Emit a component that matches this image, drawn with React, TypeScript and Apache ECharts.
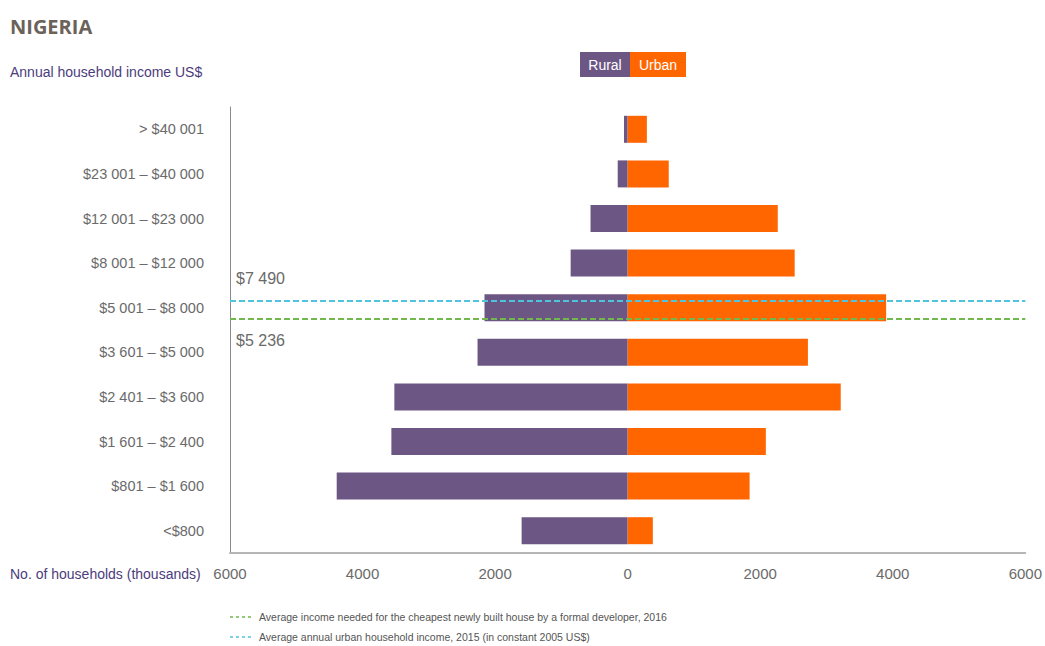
import React, { useEffect, useRef } from "react";
import * as echarts from "echarts";

const categories = [
  "<$800",
  "$801 – $1 600",
  "$1 601 – $2 400",
  "$2 401 – $3 600",
  "$3 601 – $5 000",
  "$5 001 – $8 000",
  "$8 001 – $12 000",
  "$12 001 – $23 000",
  "$23 001 – $40 000",
  "> $40 001",
];
const ruralValues = [1600, 4390, 3565, 3520, 2265, 2160, 860, 560, 150, 55];
const urbanValues = [380, 1840, 2085, 3215, 2720, 3900, 2520, 2265, 620, 290];
const xTicks = [-6000, -4000, -2000, 0, 2000, 4000, 6000];
// income reference lines, positioned on the category band scale (0 = bottom of "<$800")
const urbanIncomeLine = { label: "$7 490", level: 5.66 };
const houseIncomeLine = { label: "$5 236", level: 5.26 };
const footnotes = [
  "Average income needed for the cheapest newly built house by a formal developer, 2016",
  "Average annual urban household income, 2015 (in constant 2005 US$)",
];

const FONT = "'Liberation Sans', Arial, sans-serif";
const PURPLE = "#6c5683";
const ORANGE = "#ff6600";
const CYAN = "#4fc4dc";
const GREEN = "#72b84e";
const TEXT_PURPLE = "#4b3c7c";
const GREY = "#6a6a6a";

export default function App() {
  const ref = useRef<HTMLDivElement>(null);
  useEffect(() => {
    if (!ref.current) return;
    const chart = echarts.init(ref.current, null, { renderer: "svg" });
    chart.setOption({
      animation: false,
      backgroundColor: "#ffffff",
      grid: { left: 230, right: 16, top: 107, bottom: 93, containLabel: false },
      xAxis: {
        type: "value",
        min: xTicks[0],
        max: xTicks[xTicks.length - 1],
        interval: 2000,
        axisLine: { show: true, lineStyle: { color: "#b5b5b5", width: 2 } },
        axisTick: { show: false },
        splitLine: { show: false },
        axisLabel: {
          formatter: (v: number) => String(Math.abs(v)),
          color: GREY,
          fontFamily: FONT,
          fontSize: 15,
          margin: 13,
        },
      },
      yAxis: [
        {
          type: "category",
          data: categories,
          axisLine: { show: true, onZero: false, lineStyle: { color: "#8a8a8a", width: 1 } },
          axisTick: { show: false },
          splitLine: { show: false },
          axisLabel: { color: GREY, fontFamily: FONT, fontSize: 14.5, margin: 26 },
        },
        {
          type: "value",
          min: 0,
          max: categories.length,
          show: false,
        },
      ],
      series: [
        {
          name: "Rural",
          type: "bar",
          stack: "total",
          data: ruralValues.map((v) => -v),
          itemStyle: { color: PURPLE },
          barWidth: 27,
        },
        {
          name: "Urban",
          type: "bar",
          stack: "total",
          data: urbanValues,
          itemStyle: { color: ORANGE },
          barWidth: 27,
        },
        {
          name: "lines",
          type: "line",
          yAxisIndex: 1,
          data: [],
          z: 10,
          markLine: {
            silent: true,
            symbol: "none",
            data: [
              {
                yAxis: urbanIncomeLine.level,
                lineStyle: { color: CYAN, type: [6, 3], width: 2 },
                label: {
                  show: true,
                  formatter: urbanIncomeLine.label,
                  position: "insideStartTop",
                  color: GREY,
                  fontFamily: FONT,
                  fontSize: 16,
                  distance: [6, 14],
                },
              },
              {
                yAxis: houseIncomeLine.level,
                lineStyle: { color: GREEN, type: [6, 3], width: 2 },
                label: {
                  show: true,
                  formatter: houseIncomeLine.label,
                  position: "insideStartBottom",
                  color: GREY,
                  fontFamily: FONT,
                  fontSize: 16,
                  distance: [6, 14],
                },
              },
            ],
          },
        },
      ],
      graphic: [
        {
          type: "text",
          left: 10,
          top: 16,
          style: { text: "NIGERIA", fill: "#6b625a", font: "bold 20px 'Open Sans', sans-serif" },
        },
        {
          type: "text",
          left: 10,
          top: 65,
          style: { text: "Annual household income US$", fill: TEXT_PURPLE, font: `14px ${FONT}` },
        },
        {
          type: "text",
          left: 10,
          top: 567,
          style: { text: "No. of households (thousands)", fill: TEXT_PURPLE, font: `14px ${FONT}` },
        },
        { type: "rect", shape: { x: 580, y: 52, width: 50, height: 25 }, style: { fill: PURPLE } },
        { type: "rect", shape: { x: 630, y: 52, width: 56, height: 25 }, style: { fill: ORANGE } },
        {
          type: "text",
          x: 605,
          y: 64.5,
          style: { text: "Rural", fill: "#ffffff", font: `14px ${FONT}`, align: "center", verticalAlign: "middle" },
        },
        {
          type: "text",
          x: 658,
          y: 64.5,
          style: { text: "Urban", fill: "#ffffff", font: `14px ${FONT}`, align: "center", verticalAlign: "middle" },
        },
        { type: "line", shape: { x1: 230, y1: 617, x2: 252, y2: 617 }, style: { stroke: GREEN, lineWidth: 1.5, lineDash: [3, 3] } },
        { type: "line", shape: { x1: 230, y1: 637, x2: 252, y2: 637 }, style: { stroke: CYAN, lineWidth: 1.5, lineDash: [3, 3] } },
        {
          type: "text",
          x: 259,
          y: 617,
          style: { text: footnotes[0], fill: "#555555", font: `10.5px ${FONT}`, verticalAlign: "middle" },
        },
        {
          type: "text",
          x: 259,
          y: 637,
          style: { text: footnotes[1], fill: "#555555", font: `10.5px ${FONT}`, verticalAlign: "middle" },
        },
      ],
    });
    return () => chart.dispose();
  }, []);
  return (
    <div
      ref={ref}
      style={{ position: "absolute", left: 0, top: 0, width: 1045, height: 646 }}
    />
  );
}
